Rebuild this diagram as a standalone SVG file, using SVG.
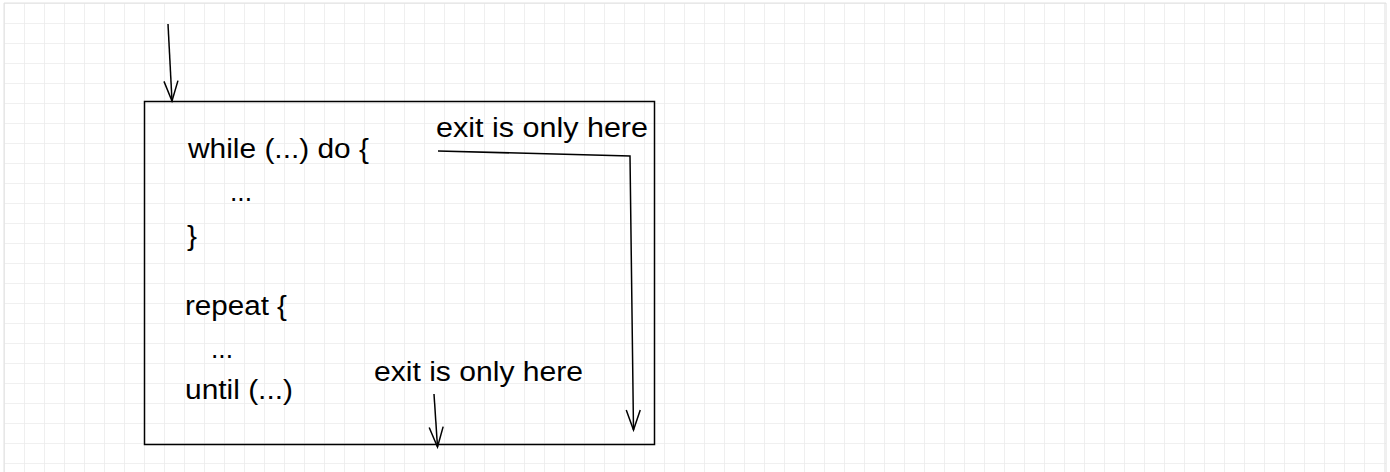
<svg xmlns="http://www.w3.org/2000/svg" width="1390" height="472" viewBox="0 0 1390 472">
  <style>
    .t { font-family: "Liberation Sans", Arial, sans-serif; font-size: 27px; fill: #000; }
    .c { fill: none; stroke: #000; stroke-width: 1.5; }
  </style>
  <defs>
    <pattern id="grid" x="4" y="3" width="20" height="20" patternUnits="userSpaceOnUse">
      <path d="M0,0 H20 M0,0 V20" fill="none" stroke="#ebebeb" stroke-width="1.6"/>
    </pattern>
    <marker id="open" viewBox="-22 -9 24 18" refX="0" refY="0" markerWidth="24" markerHeight="18" markerUnits="userSpaceOnUse" orient="auto">
      <path d="M-20,-7 L0,0 L-20,7" fill="none" stroke="#000" stroke-width="1.5"/>
    </marker>
  </defs>
  <rect width="1390" height="472" fill="#fff"/>
  <rect x="4" y="3" width="1382" height="469" fill="url(#grid)"/>
  <path d="M4,472 V3 H1386 V472" fill="none" stroke="#e0e0e0" stroke-width="1"/>

  <g id="box">
    <rect x="144.5" y="101.5" width="510" height="343" fill="none" stroke="#000" stroke-width="1.5"/>
    <text class="t" x="188" y="158" textLength="181" lengthAdjust="spacingAndGlyphs">while (...) do {</text>
    <text class="t" x="230" y="201" textLength="22" lengthAdjust="spacingAndGlyphs">...</text>
    <text class="t" x="187" y="245" textLength="10" lengthAdjust="spacingAndGlyphs">}</text>
    <text class="t" x="185" y="315" textLength="102" lengthAdjust="spacingAndGlyphs">repeat {</text>
    <text class="t" x="211" y="358" textLength="22" lengthAdjust="spacingAndGlyphs">...</text>
    <text class="t" x="185" y="399" textLength="108" lengthAdjust="spacingAndGlyphs">until (...)</text>
  </g>
  <g id="label-top">
    <text class="t" x="436" y="137" textLength="212" lengthAdjust="spacingAndGlyphs">exit is only here</text>
  </g>
  <g id="label-bottom">
    <text class="t" x="374" y="381" textLength="209" lengthAdjust="spacingAndGlyphs">exit is only here</text>
  </g>

  <g id="connectors">
    <path class="c" d="M168,24 L172,101" marker-end="url(#open)"/>
    <path class="c" d="M438,151 L630,156 L633.5,430" marker-end="url(#open)"/>
    <path class="c" d="M434,394 L437.5,447" marker-end="url(#open)"/>
  </g>
</svg>
